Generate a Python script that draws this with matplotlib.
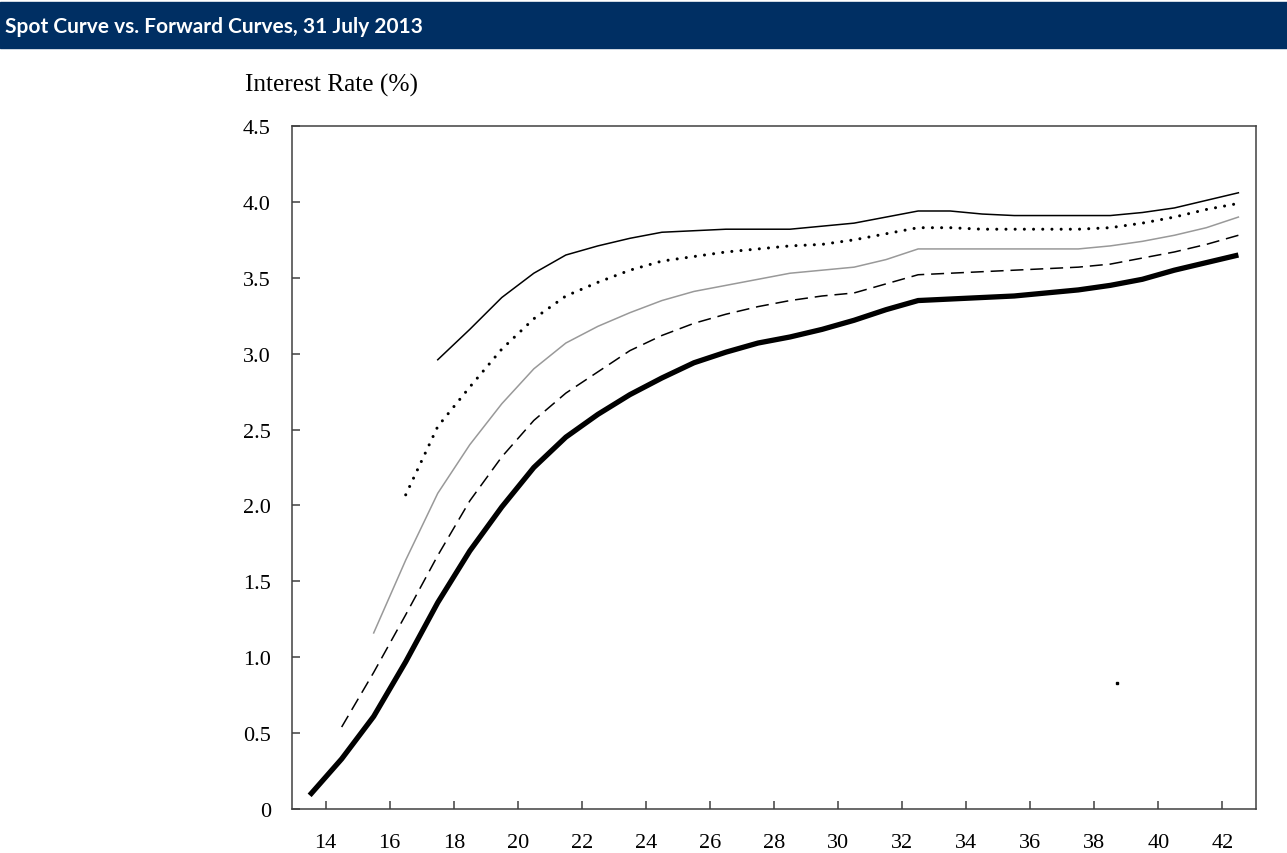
import numpy as np
import matplotlib
matplotlib.use("Agg")
import matplotlib.pyplot as plt

# maturity grid (years), spot starts at 13.5, each forward curve starts one year later
x_all = np.arange(13.5, 43.0, 1.0)

spot = [0.09, 0.33, 0.61, 0.97, 1.36, 1.70, 1.99, 2.25, 2.45, 2.60,
        2.73, 2.84, 2.94, 3.01, 3.07, 3.11, 3.16, 3.22, 3.29, 3.35,
        3.36, 3.37, 3.38, 3.40, 3.42, 3.45, 3.49, 3.55, 3.60, 3.65]

fwd_1y = [0.54, 0.90, 1.28, 1.67, 2.03, 2.32, 2.56, 2.74, 2.88,
          3.02, 3.12, 3.20, 3.26, 3.31, 3.35, 3.38, 3.40, 3.46, 3.52,
          3.53, 3.54, 3.55, 3.56, 3.57, 3.59, 3.63, 3.67, 3.72, 3.78]

fwd_2y = [1.16, 1.64, 2.08, 2.40, 2.67, 2.90, 3.07, 3.18,
          3.27, 3.35, 3.41, 3.45, 3.49, 3.53, 3.55, 3.57, 3.62, 3.69,
          3.69, 3.69, 3.69, 3.69, 3.69, 3.71, 3.74, 3.78, 3.83, 3.90]

fwd_3y = [2.07, 2.52, 2.78, 3.03, 3.23, 3.38, 3.47,
          3.55, 3.61, 3.64, 3.67, 3.69, 3.71, 3.72, 3.75, 3.79, 3.83,
          3.83, 3.82, 3.82, 3.82, 3.82, 3.83, 3.86, 3.90, 3.95, 3.99]

fwd_4y = [2.96, 3.16, 3.37, 3.53, 3.65, 3.71,
          3.76, 3.80, 3.81, 3.82, 3.82, 3.82, 3.84, 3.86, 3.90, 3.94,
          3.94, 3.92, 3.91, 3.91, 3.91, 3.91, 3.93, 3.96, 4.01, 4.06]

stray_x = [38.71]
stray_y = [0.83]

x_ticks = list(range(14, 43, 2))
y_ticks = [0, 0.5, 1.0, 1.5, 2.0, 2.5, 3.0, 3.5, 4.0, 4.5]
y_labels = ["0", "0.5", "1.0", "1.5", "2.0", "2.5", "3.0", "3.5", "4.0", "4.5"]

title = "Spot Curve vs. Forward Curves, 31 July 2013"
ylabel = "Interest Rate (%)"

fig = plt.figure(figsize=(12.87, 8.54), dpi=100)

# header bar
fig.patches.append(plt.Rectangle((0, 1 - 49 / 854), 1, 46 / 854, transform=fig.transFigure,
                                 color="#002f63", zorder=0))
fig.text(5 / 1287, 1 - 27 / 854, title, color="white", fontsize=15, fontweight="bold",
         family="Lato", va="center", ha="left")

ax = fig.add_axes([291.7 / 1287, 44 / 854, (1256 - 291.7) / 1287, (810 - 127) / 854])

ax.plot(x_all, spot, color="black", lw=3.8, solid_capstyle="butt")
ax.plot(x_all[1:], fwd_1y, color="black", lw=1.1, linestyle=(0, (8.5, 4.5)))
ax.plot(x_all[2:], fwd_2y, color="#999999", lw=1.1)
ax.plot(x_all[3:], fwd_3y, color="black", lw=2.2, linestyle=(0, (0.01, 3.0)),
        dash_capstyle="round")
ax.plot(x_all[4:], fwd_4y, color="black", lw=1.1)
ax.plot(stray_x, stray_y, "s", color="black", ms=1.5)

ax.set_xlim(12.94, 43.05)
ax.set_ylim(0, 4.5)
ax.set_xticks(x_ticks)
ax.set_yticks(y_ticks)
ax.set_yticklabels(y_labels)

for s in ax.spines.values():
    s.set_color("#404040")
    s.set_linewidth(1.1)

ax.tick_params(axis="both", direction="in", length=6, width=1.1, color="#404040",
               labelsize=16, labelcolor="black")
ax.tick_params(axis="x", pad=17)
ax.tick_params(axis="y", pad=15)
for lab in ax.get_xticklabels() + ax.get_yticklabels():
    lab.set_family("Liberation Serif")

fig.text(245 / 1287, 1 - 85 / 854, ylabel, fontsize=18.3, family="Liberation Serif",
         va="center", ha="left")

fig.savefig("out.png", dpi=100)
